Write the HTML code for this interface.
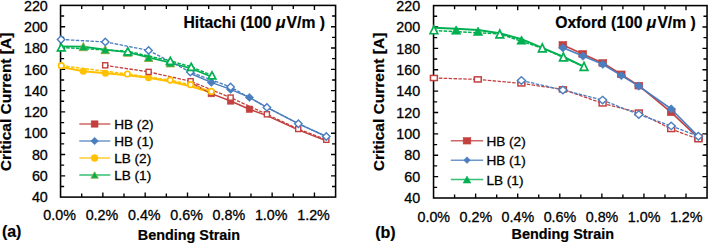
<!DOCTYPE html><html><head><meta charset="utf-8"><style>html,body{margin:0;padding:0;background:#fff;overflow:hidden}svg{display:block}text{font-family:"Liberation Sans",sans-serif;fill:#000}.tk{font-size:14.3px;stroke:#000;stroke-width:0.3px}.lg{font-size:13.6px;stroke:#000;stroke-width:0.3px}.ti{font-size:15.7px;font-weight:bold;stroke:#000;stroke-width:0.2px}.ax{font-size:14.4px;font-weight:bold;stroke:#000;stroke-width:0.2px}.yt{font-size:15.5px;font-weight:bold;stroke:#000;stroke-width:0.2px}.pl{font-size:16px;font-weight:bold;stroke:#000;stroke-width:0.2px}</style></head><body>
<svg width="709" height="243" viewBox="0 0 709 243">
<rect x="60.55" y="5.4" width="275.05" height="191.70" fill="none" stroke="#000" stroke-width="1.55"/>
<path d="M60.55,16.05h3.6M335.6,16.05h-3.6M60.55,26.70h4.6M335.6,26.70h-4.6M60.55,37.35h3.6M335.6,37.35h-3.6M60.55,48.00h4.6M335.6,48.00h-4.6M60.55,58.65h3.6M335.6,58.65h-3.6M60.55,69.30h4.6M335.6,69.30h-4.6M60.55,79.95h3.6M335.6,79.95h-3.6M60.55,90.60h4.6M335.6,90.60h-4.6M60.55,101.25h3.6M335.6,101.25h-3.6M60.55,111.90h4.6M335.6,111.90h-4.6M60.55,122.55h3.6M335.6,122.55h-3.6M60.55,133.20h4.6M335.6,133.20h-4.6M60.55,143.85h3.6M335.6,143.85h-3.6M60.55,154.50h4.6M335.6,154.50h-4.6M60.55,165.15h3.6M335.6,165.15h-3.6M60.55,175.80h4.6M335.6,175.80h-4.6M60.55,186.45h3.6M335.6,186.45h-3.6M81.71,197.1v-3.6M81.71,5.4v3.6M102.87,197.1v-4.6M102.87,5.4v4.6M124.02,197.1v-3.6M124.02,5.4v3.6M145.18,197.1v-4.6M145.18,5.4v4.6M166.34,197.1v-3.6M166.34,5.4v3.6M187.50,197.1v-4.6M187.50,5.4v4.6M208.65,197.1v-3.6M208.65,5.4v3.6M229.81,197.1v-4.6M229.81,5.4v4.6M250.97,197.1v-3.6M250.97,5.4v3.6M272.13,197.1v-4.6M272.13,5.4v4.6M293.28,197.1v-3.6M293.28,5.4v3.6M314.44,197.1v-4.6M314.44,5.4v4.6" stroke="#000" stroke-width="1.35" fill="none"/>
<text x="47.8" y="10.60" text-anchor="end" class="tk">220</text>
<text x="47.8" y="31.90" text-anchor="end" class="tk">200</text>
<text x="47.8" y="53.20" text-anchor="end" class="tk">180</text>
<text x="47.8" y="74.50" text-anchor="end" class="tk">160</text>
<text x="47.8" y="95.80" text-anchor="end" class="tk">140</text>
<text x="47.8" y="117.10" text-anchor="end" class="tk">120</text>
<text x="47.8" y="138.40" text-anchor="end" class="tk">100</text>
<text x="47.8" y="159.70" text-anchor="end" class="tk">80</text>
<text x="47.8" y="181.00" text-anchor="end" class="tk">60</text>
<text x="47.8" y="202.30" text-anchor="end" class="tk">40</text>
<text x="59.65" y="220.0" text-anchor="middle" class="tk">0.0%</text>
<text x="101.97" y="220.0" text-anchor="middle" class="tk">0.2%</text>
<text x="144.28" y="220.0" text-anchor="middle" class="tk">0.4%</text>
<text x="186.60" y="220.0" text-anchor="middle" class="tk">0.6%</text>
<text x="228.91" y="220.0" text-anchor="middle" class="tk">0.8%</text>
<text x="271.23" y="220.0" text-anchor="middle" class="tk">1.0%</text>
<text x="313.54" y="220.0" text-anchor="middle" class="tk">1.2%</text>
<path d="M61.30,46.40L83.30,46.60L105.20,49.60L127.80,52.20L148.60,57.40L170.30,62.80L191.20,68.50L212.00,77.00" fill="none" stroke="#00B050" stroke-width="1.6" stroke-linejoin="round"/>
<path d="M83.30,42.50L87.60,50.70L79.00,50.70Z" fill="#00B050" stroke="#8FA43A" stroke-width="0.8" stroke-linejoin="miter"/>
<path d="M105.20,45.50L109.50,53.70L100.90,53.70Z" fill="#00B050" stroke="#8FA43A" stroke-width="0.8" stroke-linejoin="miter"/>
<path d="M127.80,48.10L132.10,56.30L123.50,56.30Z" fill="#00B050" stroke="#8FA43A" stroke-width="0.8" stroke-linejoin="miter"/>
<path d="M148.60,53.30L152.90,61.50L144.30,61.50Z" fill="#00B050" stroke="#8FA43A" stroke-width="0.8" stroke-linejoin="miter"/>
<path d="M170.30,58.70L174.60,66.90L166.00,66.90Z" fill="#00B050" stroke="#8FA43A" stroke-width="0.8" stroke-linejoin="miter"/>
<path d="M61.30,67.00L83.30,71.20L105.40,73.20L127.40,75.30L148.60,77.80L170.20,81.50L190.60,86.30L211.30,92.40" fill="none" stroke="#FFC000" stroke-width="2.1" stroke-linejoin="round"/>
<ellipse cx="83.30" cy="71.20" rx="3.50" ry="3.50" fill="#FFC000" stroke="#FFC000" stroke-width="0"/>
<ellipse cx="105.40" cy="73.20" rx="3.50" ry="3.50" fill="#FFC000" stroke="#FFC000" stroke-width="0"/>
<ellipse cx="148.60" cy="77.80" rx="3.50" ry="3.50" fill="#FFC000" stroke="#FFC000" stroke-width="0"/>
<path d="M190.60,82.50L211.30,93.60L230.60,101.00L249.40,109.20L266.90,115.60L298.20,129.90L326.30,140.90" fill="none" stroke="#C2413F" stroke-width="1.5" stroke-linejoin="round"/>
<rect x="208.10" y="90.40" width="6.40" height="6.40" fill="#C2413F" stroke="#C2413F" stroke-width="0.6"/>
<rect x="227.40" y="97.80" width="6.40" height="6.40" fill="#C2413F" stroke="#C2413F" stroke-width="0.6"/>
<rect x="246.20" y="106.00" width="6.40" height="6.40" fill="#C2413F" stroke="#C2413F" stroke-width="0.6"/>
<path d="M190.60,73.50L211.30,82.40L230.60,89.40L249.40,97.40L266.90,107.40L298.20,123.60L326.30,136.50" fill="none" stroke="#4A7EBF" stroke-width="1.5" stroke-linejoin="round"/>
<path d="M211.30,78.40L215.50,82.40L211.30,86.40L207.10,82.40Z" fill="#4A7EBF" stroke="#4A7EBF" stroke-width="0.6"/>
<path d="M230.60,85.40L234.80,89.40L230.60,93.40L226.40,89.40Z" fill="#4A7EBF" stroke="#4A7EBF" stroke-width="0.6"/>
<path d="M249.40,93.40L253.60,97.40L249.40,101.40L245.20,97.40Z" fill="#4A7EBF" stroke="#4A7EBF" stroke-width="0.6"/>
<path d="M105.20,65.30L148.60,71.90L190.60,81.20L230.60,97.60L266.90,114.30L298.20,129.00L326.30,139.80" fill="none" stroke="#C2413F" stroke-width="1.3" stroke-dasharray="3.5 1.4" stroke-linejoin="round"/>
<rect x="102.65" y="62.75" width="5.10" height="5.10" fill="#fff" stroke="#C2413F" stroke-width="1.4"/>
<rect x="146.05" y="69.35" width="5.10" height="5.10" fill="#fff" stroke="#C2413F" stroke-width="1.4"/>
<rect x="188.05" y="78.65" width="5.10" height="5.10" fill="#fff" stroke="#C2413F" stroke-width="1.4"/>
<rect x="228.05" y="95.05" width="5.10" height="5.10" fill="#fff" stroke="#C2413F" stroke-width="1.4"/>
<rect x="264.35" y="111.75" width="5.10" height="5.10" fill="#fff" stroke="#C2413F" stroke-width="1.4"/>
<rect x="295.65" y="126.45" width="5.10" height="5.10" fill="#fff" stroke="#C2413F" stroke-width="1.4"/>
<rect x="323.75" y="137.25" width="5.10" height="5.10" fill="#fff" stroke="#C2413F" stroke-width="1.4"/>
<path d="M61.30,65.70L127.40,74.00L170.20,80.10L190.60,84.70L211.30,91.40" fill="none" stroke="#FFC000" stroke-width="1.5" stroke-dasharray="3.5 1.4" stroke-linejoin="round"/>
<ellipse cx="61.30" cy="65.70" rx="2.75" ry="2.75" fill="#fff" stroke="#FFC000" stroke-width="1.7"/>
<ellipse cx="127.40" cy="74.00" rx="2.75" ry="2.75" fill="#fff" stroke="#FFC000" stroke-width="1.7"/>
<ellipse cx="170.20" cy="80.10" rx="2.75" ry="2.75" fill="#fff" stroke="#FFC000" stroke-width="1.7"/>
<ellipse cx="190.60" cy="84.70" rx="2.75" ry="2.75" fill="#fff" stroke="#FFC000" stroke-width="1.7"/>
<ellipse cx="211.30" cy="91.40" rx="2.75" ry="2.75" fill="#fff" stroke="#FFC000" stroke-width="1.7"/>
<path d="M61.10,39.50L105.30,41.90L148.60,50.40L190.30,72.00L230.60,87.00L266.90,107.40L298.40,123.70L326.30,136.50" fill="none" stroke="#4A7EBF" stroke-width="1.3" stroke-dasharray="3.5 1.4" stroke-linejoin="round"/>
<path d="M61.10,35.80L64.80,39.50L61.10,43.20L57.40,39.50Z" fill="#fff" stroke="#4A7EBF" stroke-width="1.4"/>
<path d="M105.30,38.20L109.00,41.90L105.30,45.60L101.60,41.90Z" fill="#fff" stroke="#4A7EBF" stroke-width="1.4"/>
<path d="M148.60,46.70L152.30,50.40L148.60,54.10L144.90,50.40Z" fill="#fff" stroke="#4A7EBF" stroke-width="1.4"/>
<path d="M190.30,68.30L194.00,72.00L190.30,75.70L186.60,72.00Z" fill="#fff" stroke="#4A7EBF" stroke-width="1.4"/>
<path d="M230.60,83.30L234.30,87.00L230.60,90.70L226.90,87.00Z" fill="#fff" stroke="#4A7EBF" stroke-width="1.4"/>
<path d="M266.90,103.70L270.60,107.40L266.90,111.10L263.20,107.40Z" fill="#fff" stroke="#4A7EBF" stroke-width="1.4"/>
<path d="M298.40,120.00L302.10,123.70L298.40,127.40L294.70,123.70Z" fill="#fff" stroke="#4A7EBF" stroke-width="1.4"/>
<path d="M326.30,132.80L330.00,136.50L326.30,140.20L322.60,136.50Z" fill="#fff" stroke="#4A7EBF" stroke-width="1.4"/>
<path d="M61.30,47.40L127.80,51.30L170.30,60.90L191.20,66.80L212.00,75.40" fill="none" stroke="#00B050" stroke-width="1.5" stroke-dasharray="3.5 1.4" stroke-linejoin="round"/>
<path d="M61.30,43.85L65.15,50.95L57.45,50.95Z" fill="#fff" stroke="#00B050" stroke-width="1.7" stroke-linejoin="miter"/>
<path d="M127.80,47.75L131.65,54.85L123.95,54.85Z" fill="#fff" stroke="#00B050" stroke-width="1.7" stroke-linejoin="miter"/>
<path d="M170.30,57.35L174.15,64.45L166.45,64.45Z" fill="#fff" stroke="#00B050" stroke-width="1.7" stroke-linejoin="miter"/>
<path d="M191.20,63.25L195.05,70.35L187.35,70.35Z" fill="#fff" stroke="#00B050" stroke-width="1.7" stroke-linejoin="miter"/>
<path d="M212.00,71.85L215.85,78.95L208.15,78.95Z" fill="#fff" stroke="#00B050" stroke-width="1.7" stroke-linejoin="miter"/>
<text x="183.5" y="27.8" class="ti">Hitachi (100 <tspan font-style="italic">μ</tspan><tspan dx="1.2">V/m )</tspan></text>
<path d="M79.3,124.00H110.3" stroke="#C2413F" stroke-width="1.5" stroke-opacity="0.8"/>
<rect x="91.15" y="120.80" width="6.90" height="6.40" fill="#C2413F" stroke="#C2413F" stroke-width="0.5"/>
<text x="114.2" y="129.10" class="lg">HB (2)</text>
<path d="M79.3,141.00H110.3" stroke="#4A7EBF" stroke-width="1.5" stroke-opacity="0.8"/>
<path d="M94.60,137.30L98.45,141.00L94.60,144.70L90.75,141.00Z" fill="#4A7EBF" stroke="#4A7EBF" stroke-width="0.5"/>
<text x="114.2" y="146.10" class="lg">HB (1)</text>
<path d="M79.3,158.00H110.3" stroke="#FFC000" stroke-width="1.5" stroke-opacity="0.8"/>
<ellipse cx="94.60" cy="158.00" rx="3.45" ry="3.55" fill="#FFC000" stroke="#FFC000" stroke-width="0.5"/>
<text x="114.2" y="163.10" class="lg">LB (2)</text>
<path d="M79.3,175.00H110.3" stroke="#00B050" stroke-width="1.5" stroke-opacity="0.8"/>
<path d="M94.60,171.80L98.30,178.20L90.90,178.20Z" fill="#00B050" stroke="#8FA43A" stroke-width="0.8" stroke-linejoin="miter"/>
<text x="114.2" y="180.10" class="lg">LB (1)</text>
<text transform="translate(10.8,171.3) rotate(-90)" class="yt">Critical Current [A]</text>
<text x="137.8" y="239.6" class="ax">Bending Strain</text>
<text x="1.9" y="237.3" class="pl">(a)</text>
<rect x="433.55" y="5.6" width="273.50" height="192.40" fill="none" stroke="#000" stroke-width="1.55"/>
<path d="M433.55,16.29h3.6M707.05,16.29h-3.6M433.55,26.98h4.6M707.05,26.98h-4.6M433.55,37.67h3.6M707.05,37.67h-3.6M433.55,48.36h4.6M707.05,48.36h-4.6M433.55,59.04h3.6M707.05,59.04h-3.6M433.55,69.73h4.6M707.05,69.73h-4.6M433.55,80.42h3.6M707.05,80.42h-3.6M433.55,91.11h4.6M707.05,91.11h-4.6M433.55,101.80h3.6M707.05,101.80h-3.6M433.55,112.49h4.6M707.05,112.49h-4.6M433.55,123.18h3.6M707.05,123.18h-3.6M433.55,133.87h4.6M707.05,133.87h-4.6M433.55,144.56h3.6M707.05,144.56h-3.6M433.55,155.24h4.6M707.05,155.24h-4.6M433.55,165.93h3.6M707.05,165.93h-3.6M433.55,176.62h4.6M707.05,176.62h-4.6M433.55,187.31h3.6M707.05,187.31h-3.6M454.59,198.0v-3.6M454.59,5.6v3.6M475.63,198.0v-4.6M475.63,5.6v4.6M496.67,198.0v-3.6M496.67,5.6v3.6M517.70,198.0v-4.6M517.70,5.6v4.6M538.74,198.0v-3.6M538.74,5.6v3.6M559.78,198.0v-4.6M559.78,5.6v4.6M580.82,198.0v-3.6M580.82,5.6v3.6M601.86,198.0v-4.6M601.86,5.6v4.6M622.90,198.0v-3.6M622.90,5.6v3.6M643.93,198.0v-4.6M643.93,5.6v4.6M664.97,198.0v-3.6M664.97,5.6v3.6M686.01,198.0v-4.6M686.01,5.6v4.6" stroke="#000" stroke-width="1.35" fill="none"/>
<text x="420.2" y="10.80" text-anchor="end" class="tk">220</text>
<text x="420.2" y="32.18" text-anchor="end" class="tk">200</text>
<text x="420.2" y="53.56" text-anchor="end" class="tk">180</text>
<text x="420.2" y="74.93" text-anchor="end" class="tk">160</text>
<text x="420.2" y="96.31" text-anchor="end" class="tk">140</text>
<text x="420.2" y="117.69" text-anchor="end" class="tk">120</text>
<text x="420.2" y="139.07" text-anchor="end" class="tk">100</text>
<text x="420.2" y="160.44" text-anchor="end" class="tk">80</text>
<text x="420.2" y="181.82" text-anchor="end" class="tk">60</text>
<text x="420.2" y="203.20" text-anchor="end" class="tk">40</text>
<text x="433.75" y="221.5" text-anchor="middle" class="tk">0.0%</text>
<text x="475.83" y="221.5" text-anchor="middle" class="tk">0.2%</text>
<text x="517.90" y="221.5" text-anchor="middle" class="tk">0.4%</text>
<text x="559.98" y="221.5" text-anchor="middle" class="tk">0.6%</text>
<text x="602.06" y="221.5" text-anchor="middle" class="tk">0.8%</text>
<text x="644.13" y="221.5" text-anchor="middle" class="tk">1.0%</text>
<text x="686.21" y="221.5" text-anchor="middle" class="tk">1.2%</text>
<path d="M433.90,27.70L456.10,28.80L478.00,30.10L499.80,33.30L521.60,39.20L542.30,47.80L563.70,56.80L583.80,66.60" fill="none" stroke="#00B050" stroke-width="2.0" stroke-linejoin="round"/>
<path d="M456.10,25.80L460.80,34.20L451.40,34.20Z" fill="#00B050" stroke="#00B050" stroke-width="0.6" stroke-linejoin="miter"/>
<path d="M478.00,27.00L482.70,35.40L473.30,35.40Z" fill="#00B050" stroke="#00B050" stroke-width="0.6" stroke-linejoin="miter"/>
<path d="M521.50,35.80L526.20,44.20L516.80,44.20Z" fill="#00B050" stroke="#00B050" stroke-width="0.6" stroke-linejoin="miter"/>
<path d="M562.90,44.90L582.70,53.90L602.80,63.00L621.20,74.30L638.80,85.70L671.20,112.30L698.40,138.00" fill="none" stroke="#C2413F" stroke-width="1.6" stroke-linejoin="round"/>
<rect x="559.00" y="41.55" width="7.80" height="6.70" fill="#C2413F" stroke="#C2413F" stroke-width="0.6"/>
<rect x="578.80" y="50.55" width="7.80" height="6.70" fill="#C2413F" stroke="#C2413F" stroke-width="0.6"/>
<rect x="598.90" y="59.65" width="7.80" height="6.70" fill="#C2413F" stroke="#C2413F" stroke-width="0.6"/>
<rect x="617.30" y="70.95" width="7.80" height="6.70" fill="#C2413F" stroke="#C2413F" stroke-width="0.6"/>
<rect x="634.90" y="82.35" width="7.80" height="6.70" fill="#C2413F" stroke="#C2413F" stroke-width="0.6"/>
<rect x="667.30" y="108.95" width="7.80" height="6.70" fill="#C2413F" stroke="#C2413F" stroke-width="0.6"/>
<rect x="694.50" y="134.65" width="7.80" height="6.70" fill="#C2413F" stroke="#C2413F" stroke-width="0.6"/>
<path d="M562.90,47.80L583.00,56.10L602.80,64.30L621.40,75.60L638.80,86.10L671.20,109.00L698.40,136.60" fill="none" stroke="#4A7EBF" stroke-width="1.6" stroke-linejoin="round"/>
<path d="M562.90,43.65L567.30,47.80L562.90,51.95L558.50,47.80Z" fill="#4A7EBF" stroke="#4A7EBF" stroke-width="0.6"/>
<path d="M583.00,51.95L587.40,56.10L583.00,60.25L578.60,56.10Z" fill="#4A7EBF" stroke="#4A7EBF" stroke-width="0.6"/>
<path d="M602.80,60.15L607.20,64.30L602.80,68.45L598.40,64.30Z" fill="#4A7EBF" stroke="#4A7EBF" stroke-width="0.6"/>
<path d="M621.40,71.45L625.80,75.60L621.40,79.75L617.00,75.60Z" fill="#4A7EBF" stroke="#4A7EBF" stroke-width="0.6"/>
<path d="M638.80,81.95L643.20,86.10L638.80,90.25L634.40,86.10Z" fill="#4A7EBF" stroke="#4A7EBF" stroke-width="0.6"/>
<path d="M671.20,104.85L675.60,109.00L671.20,113.15L666.80,109.00Z" fill="#4A7EBF" stroke="#4A7EBF" stroke-width="0.6"/>
<path d="M698.40,132.45L702.80,136.60L698.40,140.75L694.00,136.60Z" fill="#4A7EBF" stroke="#4A7EBF" stroke-width="0.6"/>
<path d="M433.90,78.00L477.80,79.40L521.40,83.40L562.90,89.40L602.60,103.40L638.80,112.60L671.20,129.00L698.40,139.20" fill="none" stroke="#C2413F" stroke-width="1.3" stroke-dasharray="3.5 1.4" stroke-linejoin="round"/>
<rect x="430.45" y="75.45" width="6.90" height="5.10" fill="#fff" stroke="#C2413F" stroke-width="1.5"/>
<rect x="474.35" y="76.85" width="6.90" height="5.10" fill="#fff" stroke="#C2413F" stroke-width="1.5"/>
<rect x="517.95" y="80.85" width="6.90" height="5.10" fill="#fff" stroke="#C2413F" stroke-width="1.5"/>
<rect x="559.45" y="86.85" width="6.90" height="5.10" fill="#fff" stroke="#C2413F" stroke-width="1.5"/>
<rect x="599.15" y="100.85" width="6.90" height="5.10" fill="#fff" stroke="#C2413F" stroke-width="1.5"/>
<rect x="635.35" y="110.05" width="6.90" height="5.10" fill="#fff" stroke="#C2413F" stroke-width="1.5"/>
<rect x="667.75" y="126.45" width="6.90" height="5.10" fill="#fff" stroke="#C2413F" stroke-width="1.5"/>
<rect x="694.95" y="136.65" width="6.90" height="5.10" fill="#fff" stroke="#C2413F" stroke-width="1.5"/>
<path d="M521.40,80.50L562.90,90.00L602.60,100.10L638.80,114.60L671.20,125.90L698.40,136.20" fill="none" stroke="#4A7EBF" stroke-width="1.3" stroke-dasharray="3.5 1.4" stroke-linejoin="round"/>
<path d="M521.40,76.75L525.50,80.50L521.40,84.25L517.30,80.50Z" fill="#fff" stroke="#4A7EBF" stroke-width="1.4"/>
<path d="M562.90,86.25L567.00,90.00L562.90,93.75L558.80,90.00Z" fill="#fff" stroke="#4A7EBF" stroke-width="1.4"/>
<path d="M602.60,96.35L606.70,100.10L602.60,103.85L598.50,100.10Z" fill="#fff" stroke="#4A7EBF" stroke-width="1.4"/>
<path d="M638.80,110.85L642.90,114.60L638.80,118.35L634.70,114.60Z" fill="#fff" stroke="#4A7EBF" stroke-width="1.4"/>
<path d="M671.20,122.15L675.30,125.90L671.20,129.65L667.10,125.90Z" fill="#fff" stroke="#4A7EBF" stroke-width="1.4"/>
<path d="M698.40,132.45L702.50,136.20L698.40,139.95L694.30,136.20Z" fill="#fff" stroke="#4A7EBF" stroke-width="1.4"/>
<path d="M433.90,30.50L499.80,34.00L542.30,48.20L563.40,57.40L584.00,66.80" fill="none" stroke="#00B050" stroke-width="1.5" stroke-dasharray="3.5 1.4" stroke-linejoin="round"/>
<path d="M433.90,25.85L437.75,33.75L430.05,33.75Z" fill="#fff" stroke="#00B050" stroke-width="1.7" stroke-linejoin="miter"/>
<path d="M499.80,30.05L503.65,37.95L495.95,37.95Z" fill="#fff" stroke="#00B050" stroke-width="1.7" stroke-linejoin="miter"/>
<path d="M542.30,43.95L546.15,51.85L538.45,51.85Z" fill="#fff" stroke="#00B050" stroke-width="1.7" stroke-linejoin="miter"/>
<path d="M563.40,53.05L567.25,60.95L559.55,60.95Z" fill="#fff" stroke="#00B050" stroke-width="1.7" stroke-linejoin="miter"/>
<path d="M584.00,62.45L587.85,70.35L580.15,70.35Z" fill="#fff" stroke="#00B050" stroke-width="1.7" stroke-linejoin="miter"/>
<text x="555.2" y="28.2" class="ti">Oxford (100 <tspan font-style="italic">μ</tspan><tspan dx="1.2">V/m )</tspan></text>
<path d="M450.8,140.80H483.2" stroke="#C2413F" stroke-width="1.5" stroke-opacity="0.8"/>
<rect x="463.15" y="137.55" width="7.70" height="6.50" fill="#C2413F" stroke="#C2413F" stroke-width="0.5"/>
<text x="486.4" y="146.10" class="lg">HB (2)</text>
<path d="M450.8,160.15H483.2" stroke="#4A7EBF" stroke-width="1.5" stroke-opacity="0.8"/>
<path d="M467.00,156.80L470.35,160.15L467.00,163.50L463.65,160.15Z" fill="#4A7EBF" stroke="#4A7EBF" stroke-width="0.5"/>
<text x="486.4" y="165.45" class="lg">HB (1)</text>
<path d="M450.8,179.50H483.2" stroke="#00B050" stroke-width="1.5" stroke-opacity="0.8"/>
<path d="M467.00,175.95L470.85,183.05L463.15,183.05Z" fill="#00B050" stroke="#00B050" stroke-width="0.5" stroke-linejoin="miter"/>
<text x="486.4" y="184.80" class="lg">LB (1)</text>
<text transform="translate(383.5,171.3) rotate(-90)" class="yt">Critical Current [A]</text>
<text x="511.6" y="239.2" class="ax">Bending Strain</text>
<text x="375.2" y="237.6" class="pl">(b)</text>
</svg></body></html>
